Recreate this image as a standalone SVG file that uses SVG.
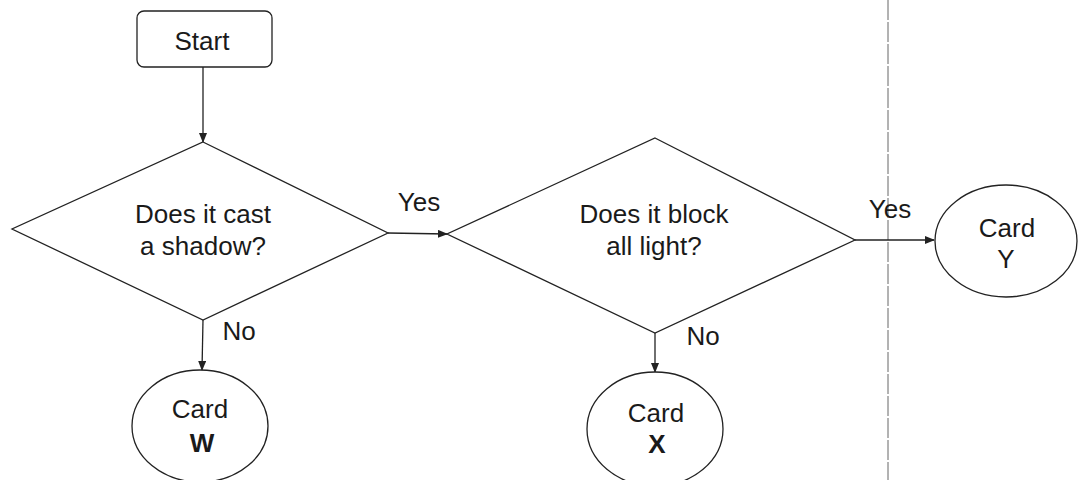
<svg xmlns="http://www.w3.org/2000/svg" width="1078" height="480" viewBox="0 0 1078 480">
<style>
.shape{fill:#fff;stroke:#222;stroke-width:1.3}
.t{font-family:"Liberation Sans",Arial,sans-serif;font-size:26px;fill:#1a1a1a;text-anchor:middle}
.b{font-weight:bold}
.conn{stroke:#222;stroke-width:1.3;fill:none;marker-end:url(#ah)}
</style>
<defs>
<marker id="ah" markerWidth="10" markerHeight="8" refX="9" refY="4" orient="auto" markerUnits="userSpaceOnUse">
<path d="M0,0 L10,4 L0,8 Z" fill="#222"/>
</marker>
</defs>
<rect width="1078" height="480" fill="#fff"/>
<line x1="888" y1="0" x2="888" y2="480" stroke="#666" stroke-width="1" stroke-dasharray="20,2"/>
<g id="connectors">
<line class="conn" x1="203" y1="67" x2="203" y2="142"/>
<line class="conn" x1="388" y1="233" x2="447" y2="234"/>
<line class="conn" x1="203" y1="320" x2="202" y2="370"/>
<line class="conn" x1="855" y1="240" x2="934" y2="240"/>
<line class="conn" x1="655" y1="333" x2="655" y2="372"/>
</g>
<g id="start">
<rect class="shape" x="137" y="11" width="135" height="56" rx="7"/>
<text class="t" x="202" y="50">Start</text>
</g>
<g id="q1">
<polygon class="shape" points="203,142 388,233 203,320 12,229"/>
<text class="t" x="203" y="223">Does it cast</text>
<text class="t" x="203" y="255">a shadow?</text>
</g>
<g id="q2">
<polygon class="shape" points="655,138 855,240 655,333 447,234"/>
<text class="t" x="654" y="223">Does it block</text>
<text class="t" x="654" y="255">all light?</text>
</g>
<g id="cardW">
<ellipse class="shape" cx="200" cy="426" rx="68" ry="56"/>
<text class="t" x="200" y="418">Card</text>
<text class="t b" x="202" y="452">W</text>
</g>
<g id="cardX">
<ellipse class="shape" cx="655" cy="429" rx="68" ry="57"/>
<text class="t" x="656" y="422">Card</text>
<text class="t b" x="657" y="453">X</text>
</g>
<g id="cardY">
<ellipse class="shape" cx="1006" cy="241" rx="71" ry="56"/>
<text class="t" x="1007" y="237">Card</text>
<text class="t" x="1006" y="268">Y</text>
</g>
<g id="labels">
<text class="t" x="419" y="211">Yes</text>
<text class="t" x="890" y="218">Yes</text>
<text class="t" x="239" y="340">No</text>
<text class="t" x="703" y="345">No</text>
</g>
</svg>
